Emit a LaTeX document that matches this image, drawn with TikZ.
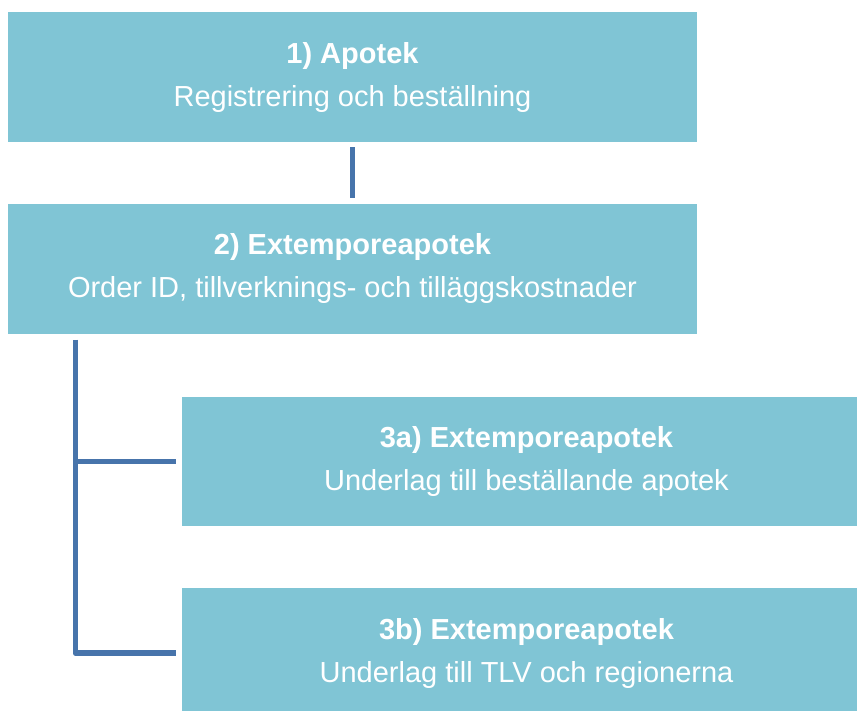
\documentclass[tikz,border=0pt]{standalone}
\usepackage{fontspec}
\setmainfont{Liberation Sans}
\usepackage{tikz}
\usetikzlibrary{positioning}

\definecolor{boxfill}{HTML}{80C5D5}
\definecolor{linkblue}{HTML}{4774AB}

\begin{document}
\begin{tikzpicture}[x=1pt, y=1pt,
    box/.style = {fill=boxfill, text=white, minimum width=689pt, minimum height=129.5pt,
                  inner sep=0pt, align=center, font=\fontsize{29}{43}\selectfont},
    link/.style = {draw=linkblue, line width=5.5pt, line join=round}]
      \useasboundingbox (0,0) rectangle (857,-710);

      \node[box] (apotek) at (352.5,-77) {\textbf{1) Apotek}\\Registrering och beställning};
      \node[box] (extemp) [below=62pt of apotek] {\textbf{2) Extemporeapotek}\\Order ID, tillverknings- och tilläggskostnader};
      \node[box, below=62.5pt of extemp.south west, anchor=north west, xshift=174pt] (underlagA) {\textbf{3a) Extemporeapotek}\\Underlag till beställande apotek};
      \node[box, below=62pt of underlagA.south west, anchor=north west] (underlagB) {\textbf{3b) Extemporeapotek}\\Underlag till TLV och regionerna};

      \draw[link, shorten <=5.5pt, shorten >=6pt] (apotek) to (extemp);
      \draw[link, shorten <=6pt, shorten >=5.5pt] ([xshift=67.5pt]extemp.south west) |- (underlagA.west);
      \draw[link, shorten <=6pt, shorten >=5.5pt] ([xshift=67.5pt]extemp.south west) |- (underlagB.west);
\end{tikzpicture}
\end{document}
